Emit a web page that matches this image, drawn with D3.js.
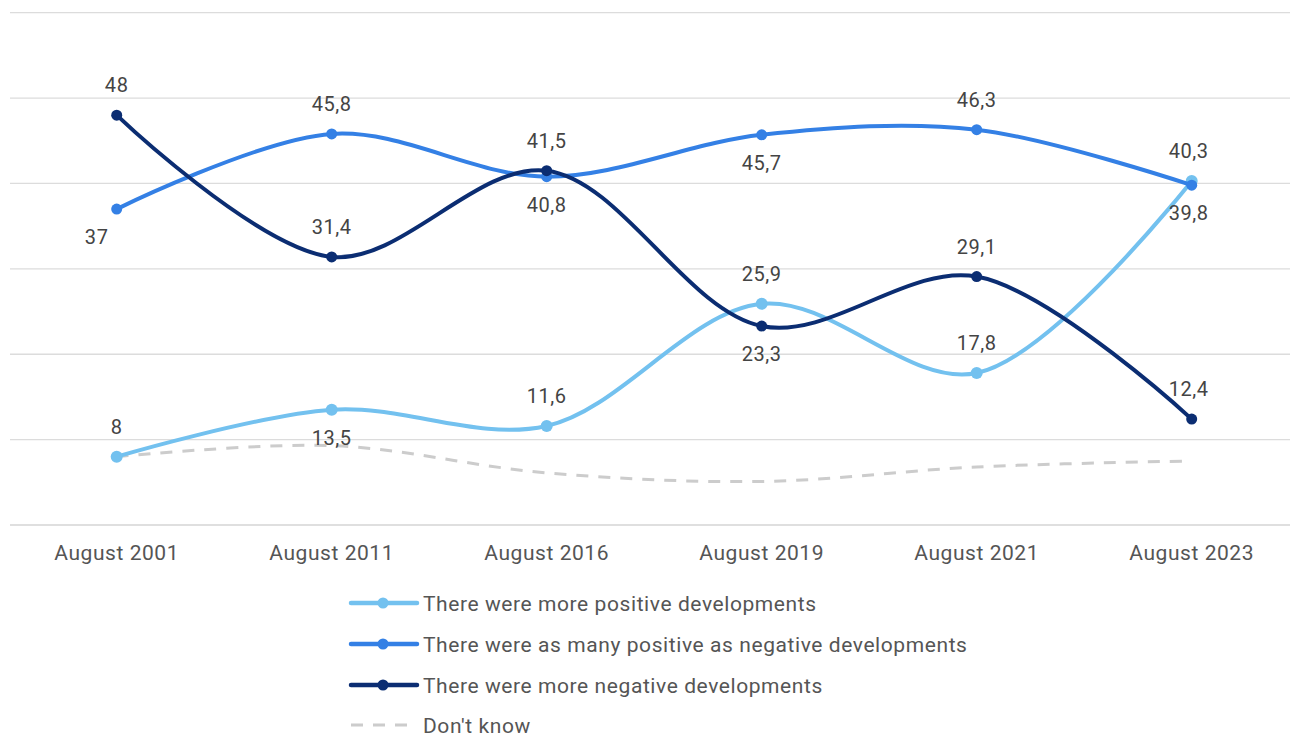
<!DOCTYPE html>
<html>
<head>
<meta charset="utf-8">
<script src="https://cdn.jsdelivr.net/npm/d3@7"></script>
<style>
    body { margin: 0; background: #fff; }
    text { font-family: Roboto, "Noto Sans", sans-serif; }
</style>
</head>
<body>
<div id="chart"></div>
<script>
// categories and series
const categories = ["August 2001", "August 2011", "August 2016", "August 2019", "August 2021", "August 2023"];
const morePositive = [8, 13.5, 11.6, 25.9, 17.8, 40.3];
const asMany = [37, 45.8, 40.8, 45.7, 46.3, 39.8];
const moreNegative = [48, 31.4, 41.5, 23.3, 29.1, 12.4];
const dontKnow = [8, 9.3, 6.1, 5.1, 6.8, 7.5];
const seriesNames = [
    "There were more positive developments",
    "There were as many positive as negative developments",
    "There were more negative developments",
    "Don't know"
];
const yTicks = [0, 10, 20, 30, 40, 50, 60];

// label placement per point (layout only): "a" above, "b" below, "bl" below-left
const labelSide = [
    ["a", "b", "a", "a", "a", "a"],
    ["bl", "a", "b", "b", "a", "b"],
    ["a", "a", "a", "b", "a", "a"]
];

const width = 1290, height = 736;
const svg = d3.select("#chart").append("svg")
    .attr("width", width)
    .attr("height", height);

let x = d3.scalePoint()
    .domain(categories)
    .range([116.7, 1191.7]);
let y = d3.scaleLinear()
    .domain([0, 60])
    .range([525, 12.7]);

// gridlines
svg.append("g").selectAll("line").data(yTicks)
    .enter().append("line")
    .attr("x1", 10).attr("x2", width)
    .attr("y1", d => y(d)).attr("y2", d => y(d))
    .attr("stroke", d => d === 0 ? "#d4d4d4" : "#dcdcdc")
    .attr("stroke-width", 1.3);

// x axis labels
svg.append("g").selectAll("text").data(categories)
    .enter().append("text")
    .attr("x", d => x(d))
    .attr("y", 560)
    .attr("text-anchor", "middle")
    .attr("font-size", 21)
    .attr("letter-spacing", 0.55)
    .attr("fill", "#555")
    .text(d => d);

let series = [
    {name: seriesNames[0], values: morePositive, color: "#73c1ef", r: 6, dash: null},
    {name: seriesNames[1], values: asMany, color: "#3480e5", r: 5.5, dash: null},
    {name: seriesNames[2], values: moreNegative, color: "#0b2d72", r: 5.5, dash: null},
    {name: seriesNames[3], values: dontKnow, color: "#cccccc", r: 0, dash: "12,10"}
];

let line = d3.line()
    .x((d, i) => x(categories[i]))
    .y(d => y(d))
    .curve(d3.curveCatmullRom.alpha(0.5));

// draw dashed series first, then the others in order
let drawOrder = [3, 0, 1, 2];
drawOrder.forEach(si => {
    let s = series[si];
    let g = svg.append("g");
    g.append("path")
        .attr("d", line(s.values))
        .attr("fill", "none")
        .attr("stroke", s.color)
        .attr("stroke-width", s.dash ? 3 : 4)
        .attr("stroke-linecap", "butt")
        .attr("stroke-dasharray", s.dash);
    if (s.r > 0) {
        g.selectAll("circle").data(s.values)
            .enter().append("circle")
            .attr("cx", (d, i) => x(categories[i]))
            .attr("cy", d => y(d))
            .attr("r", s.r)
            .attr("fill", s.color);
    }
});

// data labels
series.slice(0, 3).forEach((s, si) => {
    svg.append("g").selectAll("text").data(s.values)
        .enter().append("text")
        .attr("x", (d, i) => {
            let px = x(categories[i]);
            if (labelSide[si][i] === "bl") px -= 20;
            if (i === categories.length - 1) px -= 3;
            return px;
        })
        .attr("y", (d, i) => {
            let py = y(d);
            return labelSide[si][i] === "a" ? py - 23 : py + 35;
        })
        .attr("text-anchor", "middle")
        .attr("font-size", 20)
        .attr("letter-spacing", 0.6)
        .attr("fill", "#444")
        .text(d => String(d).replace(".", ","));
});

// legend
let legend = svg.append("g").attr("transform", "translate(351,0)");
let legendY = [603, 644, 685, 725];
series.forEach((s, i) => {
    let row = legend.append("g").attr("transform", "translate(0," + legendY[i] + ")");
    row.append("line")
        .attr("x1", 0).attr("x2", s.dash ? 58 : 66)
        .attr("y1", 0).attr("y2", 0)
        .attr("stroke", s.color)
        .attr("stroke-width", s.dash ? 3 : 4.5)
        .attr("stroke-linecap", s.dash ? "butt" : "round")
        .attr("stroke-dasharray", s.dash);
    if (s.r > 0) {
        row.append("circle")
            .attr("cx", 32).attr("cy", 0)
            .attr("r", 5.5)
            .attr("fill", s.color);
    }
    row.append("text")
        .attr("x", 72)
        .attr("y", 7.5)
        .attr("font-size", 21)
        .attr("letter-spacing", 0.58)
        .attr("fill", "#555")
        .text(s.name);
});
</script>
</body>
</html>
